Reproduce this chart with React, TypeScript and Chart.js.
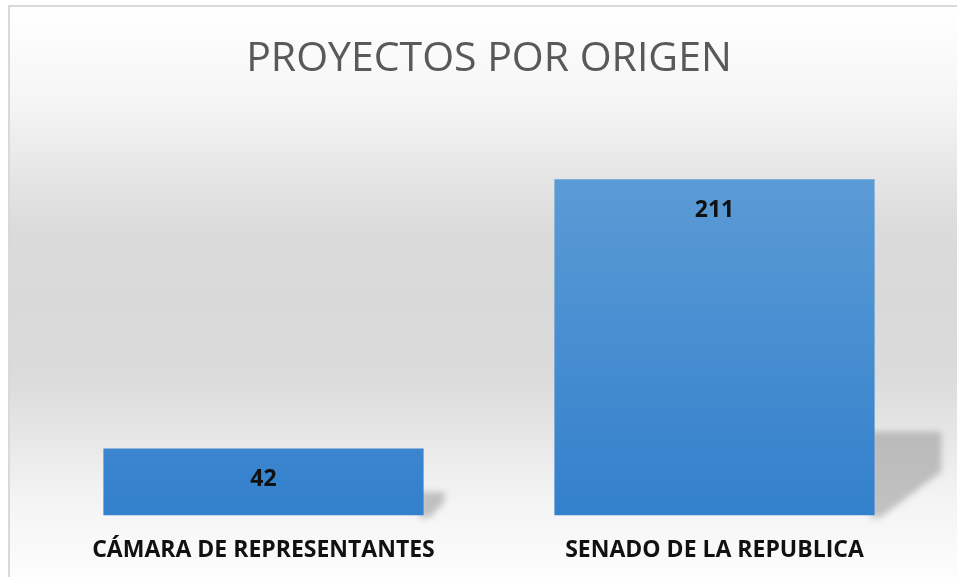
import React, { useEffect, useRef } from "react";
import { Chart, registerables } from "chart.js";

Chart.register(...registerables);

const categories = ["CÁMARA DE REPRESENTANTES", "SENADO DE LA REPUBLICA"];
const values = [42, 211];
const titleText = "PROYECTOS POR ORIGEN";
const yMin = 0;
const yMax = 250;

const FONT = "'Open Sans', 'Liberation Sans', sans-serif";

const barStylePlugin = {
  id: "barStyle",
  beforeDatasetsDraw(chart: any) {
    const ctx = chart.ctx;
    const meta = chart.getDatasetMeta(0);
    meta.data.forEach((bar: any) => {
      const right = bar.x + bar.width / 2;
      const bottom = bar.base;
      const H = bottom - bar.y;
      const h = 1.33 * Math.pow(H, 0.72);
      const w = 0.76 * h;
      ctx.save();
      ctx.filter = "blur(3px)";
      ctx.fillStyle = "rgba(150,150,150,0.55)";
      ctx.beginPath();
      ctx.moveTo(right - 4, bottom - h + 4);
      ctx.lineTo(right + w, bottom - h + 4);
      ctx.lineTo(right + w, bottom - h * 0.5);
      ctx.lineTo(right + 6, bottom + 2);
      ctx.lineTo(right - 4, bottom + 2);
      ctx.closePath();
      ctx.fill();
      ctx.restore();

      const g = ctx.createLinearGradient(0, bar.y, 0, bottom);
      g.addColorStop(0, "#5B9BD5");
      g.addColorStop(1, "#3380CC");
      bar.options.backgroundColor = g;
    });
  },
};

const valueLabelPlugin = {
  id: "valueLabels",
  afterDatasetsDraw(chart: any) {
    const ctx = chart.ctx;
    const meta = chart.getDatasetMeta(0);
    const data = chart.data.datasets[0].data;
    ctx.save();
    ctx.font = `bold 23px ${FONT}`;
    ctx.fillStyle = "#111111";
    ctx.textAlign = "center";
    ctx.textBaseline = "middle";
    meta.data.forEach((bar: any, i: number) => {
      ctx.fillText(String(data[i]), bar.x, bar.y + 31);
    });
    ctx.restore();
  },
};

export default function App() {
  const canvasRef = useRef<HTMLCanvasElement | null>(null);

  useEffect(() => {
    if (!canvasRef.current) return;
    const chart = new Chart(canvasRef.current, {
      type: "bar",
      data: {
        labels: categories,
        datasets: [
          {
            data: values,
            backgroundColor: "#4A8ED3",
            borderWidth: 0,
            barPercentage: 0.71,
            categoryPercentage: 1,
          },
        ],
      },
      options: {
        responsive: false,
        animation: false,
        devicePixelRatio: 1,
        layout: { padding: { left: 38, right: 17, top: 0, bottom: -8 } },
        plugins: {
          legend: { display: false },
          tooltip: { enabled: false },
          title: {
            display: true,
            text: titleText,
            color: "#595959",
            font: { family: FONT, size: 41, weight: "normal" },
            padding: { top: 35, bottom: 33 },
          },
        },
        scales: {
          x: {
            grid: { display: false, drawTicks: false },
            border: { display: false },
            ticks: {
              color: "#111111",
              font: { family: FONT, size: 23, weight: "bold" },
              padding: 21,
              maxRotation: 0,
              autoSkip: false,
            },
          },
          y: { display: false, min: yMin, max: yMax },
        },
      },
      plugins: [barStylePlugin, valueLabelPlugin],
    });
    return () => chart.destroy();
  }, []);

  return (
    <div
      style={{
        position: "fixed",
        left: 0,
        top: 0,
        width: 957,
        height: 577,
        overflow: "hidden",
        background: "#ffffff",
      }}
    >
      <div
        style={{
          position: "absolute",
          left: 8,
          top: 5,
          width: 980,
          height: 600,
          borderLeft: "2px solid #D9D9D9",
          borderTop: "2px solid #D9D9D9",
          background:
            "linear-gradient(to bottom, #ffffff 0px, #F5F5F5 95px, #DBDBDB 220px, #D9D9D9 295px, #DBDBDB 370px, #F4F4F4 495px, #ffffff 590px)",
        }}
      />
      <canvas
        ref={canvasRef}
        width={957}
        height={577}
        style={{ position: "absolute", left: 0, top: 0, width: 957, height: 577 }}
      />
    </div>
  );
}
